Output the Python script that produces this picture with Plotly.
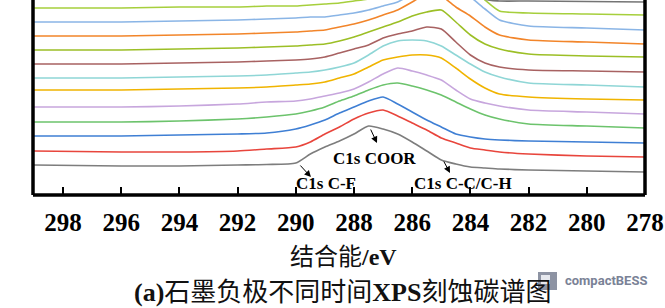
import plotly.graph_objects as go

# Binding energy grid (eV)
energy = [299, 296, 294, 292, 291, 290, 289.5, 289, 288.5, 288, 287.5, 287,
          286.5, 286, 285.5, 285, 284.5, 284, 283.5, 283, 282, 280, 278]

# Stacked spectra (a.u., offset), bottom to top
s01_gray = [30, 29, 29, 30, 30.5, 32, 41, 48, 54, 61, 69, 66, 61, 53, 44, 35, 31, 28, 27, 26, 25, 24, 23]
s02_red = [44, 43, 43, 44, 46, 48, 53, 61, 68, 76, 82, 85, 79, 72, 65, 57, 52, 47, 45, 43, 41, 39, 38]
s03_blue = [59, 59, 60, 61, 62, 66, 70, 75, 82, 88, 94, 98, 91, 83, 75, 68, 61, 58, 56, 55, 54, 53, 52]
s04_green = [73, 73, 74, 76, 78, 81, 84, 88, 94, 99, 105, 110, 112, 109, 105, 100, 93, 86, 80, 76, 71, 69, 67]
s05_lavender = [88, 88, 89, 91, 93, 94, 96, 99, 102, 106, 113, 121, 127, 124, 120, 115, 105, 96, 92, 89, 85, 83, 81]
s06_gold = [105, 105, 106, 107, 108, 110, 111, 113, 117, 121, 128, 135, 138, 140, 140, 137, 127, 116, 107, 101, 98, 96, 95]
s07_teal = [117, 117, 118, 119, 120, 122, 123, 125, 128, 132, 140, 149, 154, 155, 154, 149, 140, 131, 123, 118, 112, 110, 108]
s08_brown = [131, 131, 132, 133, 134, 135, 136, 138, 142, 146, 150, 157, 161, 164, 168, 166, 153, 140, 132, 128, 125, 124, 123]
s09_olive = [145, 145, 146, 147, 148, 149, 150, 151, 154, 158, 163, 168, 173, 179, 183, 185, 173, 160, 151, 146, 141, 139, 138]
s10_orange = [159, 159, 160, 161, 162, 163, 164, 165, 168, 171, 175, 180, 185, 193, 201, 199, 188, 179, 168, 160, 155, 153, 151]
s11_lightblue = [173, 173, 174, 175, 176, 177, 178, 178, 180, 182, 185, 189, 193, 201, 207, 210, 207, 198, 186, 175, 169, 167, 165]
s12_yellowgreen = [187, 187, 188, 188, 189, 189, 190, 191, 192, 194, 196, 199, 204, 210, 217, 221, 217, 207, 195, 184, 182, 181, 180]
s13_graytop = [201, 201, 202, 202, 203, 203, 204, 205, 206, 208, 210, 213, 217, 223, 229, 233, 229, 219, 196, 194, 194, 193.5, 193]

series = [s01_gray, s02_red, s03_blue, s04_green, s05_lavender, s06_gold, s07_teal,
          s08_brown, s09_olive, s10_orange, s11_lightblue, s12_yellowgreen, s13_graytop]
colors = ["#7d7d7d", "#e8453c", "#3f7fd4", "#6cc36c", "#c7a6dd", "#f0b400",
          "#8fd6d6", "#a86262", "#9cbf26", "#f2852a", "#8ab5e6", "#a6cf3c", "#747474"]

x_ticks = [298, 296, 294, 292, 290, 288, 286, 284, 282, 280, 278]

fig = go.Figure()
for ys, c in zip(series, colors):
    fig.add_trace(go.Scatter(x=energy, y=ys, mode="lines",
                             line=dict(color=c, width=1.6, shape="spline", smoothing=0.6),
                             hoverinfo="skip"))

serif = "Liberation Serif, Times New Roman, serif"
cjk = "Liberation Serif, Noto Sans CJK SC, serif"

annotations = []
# peak labels
for txt, xe, yi in [("C1s COOR", 287.28, 37), ("C1s C-F", 288.96, 12), ("C1s C-C/C-H", 284.25, 12)]:
    annotations.append(dict(x=xe, y=yi, xref="x", yref="y", text=txt, showarrow=False,
                            font=dict(family=serif, size=17, color="black", weight="bold"),
                            xanchor="center", yanchor="middle"))
# arrows (head near label)
for (tx, ty, sx, sy) in [(287.21, 52, 287.45, 67), (289.48, 18, 289.89, 31), (284.70, 22, 284.94, 35)]:
    annotations.append(dict(x=tx, y=ty, ax=sx, ay=sy, xref="x", yref="y", axref="x", ayref="y",
                            text="", showarrow=True, arrowhead=2, arrowsize=1.3, arrowwidth=1,
                            arrowcolor="black"))

def px2paper(px, py):
    return (px - 33) / 612, (195 - py) / 195

ax_x, ax_y = px2paper(343, 257)
annotations.append(dict(x=ax_x, y=ax_y, xref="paper", yref="paper", showarrow=False,
                        text="结合能<b>/eV</b>", font=dict(family=cjk, size=24, color="#111"),
                        xanchor="center", yanchor="middle"))
cap_x, cap_y = px2paper(342, 292)
annotations.append(dict(x=cap_x, y=cap_y, xref="paper", yref="paper", showarrow=False,
                        text="<b>(a)</b>石墨负极不同时间<b>XPS</b>刻蚀碳谱图",
                        font=dict(family=cjk, size=26, color="#111"),
                        xanchor="center", yanchor="middle"))
lg_x, lg_y = px2paper(563, 280)
annotations.append(dict(x=lg_x, y=lg_y, xref="paper", yref="paper", showarrow=False,
                        text="compactBESS", font=dict(family="Roboto, Arial, sans-serif", size=13,
                                                       color="#7a8296", weight="bold"),
                        xanchor="left", yanchor="middle"))

shapes = []
x0, y0 = px2paper(538, 290)
x1, y1 = px2paper(557, 272)
shapes.append(dict(type="rect", xref="paper", yref="paper", x0=x0, y0=y0, x1=x1, y1=y1,
                   fillcolor="#8d93a3", line=dict(width=0)))
x0, y0 = px2paper(541, 284)
x1, y1 = px2paper(550, 275)
shapes.append(dict(type="rect", xref="paper", yref="paper", x0=x0, y0=y0, x1=x1, y1=y1,
                   fillcolor="#e6e8ee", line=dict(width=0)))
# frame: left, right, bottom (no top)
for (a0, b0, a1, b1) in [(0, 0, 0, 1), (1, 0, 1, 1), (0, 0, 1, 0)]:
    shapes.append(dict(type="line", xref="paper", yref="paper", x0=a0, y0=b0, x1=a1, y1=b1,
                       line=dict(color="black", width=3.5), layer="above"))

fig.update_layout(
    width=665, height=308,
    margin=dict(l=33, r=20, t=0, b=113),
    plot_bgcolor="white", paper_bgcolor="white",
    showlegend=False,
    annotations=annotations,
    shapes=shapes,
    xaxis=dict(range=[299.03, 278.0], tickvals=x_ticks, ticktext=[str(v) for v in x_ticks],
               showgrid=False, zeroline=False, showline=False,
               ticks="inside", ticklen=8, tickwidth=2, tickcolor="black",
               tickfont=dict(family=serif, size=25, color="black", weight="bold"),
               ticklabelstandoff=10),
    yaxis=dict(range=[0, 195], showgrid=False, zeroline=False, showline=False,
               showticklabels=False, ticks=""),
)

fig.write_html("out.html")
